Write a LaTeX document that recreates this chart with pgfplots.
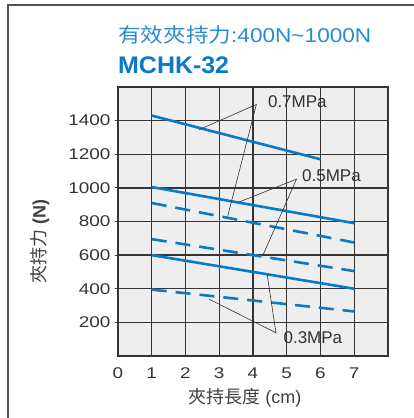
\documentclass[border=0pt]{standalone}
\usepackage{pgfplots}
\pgfplotsset{compat=1.18}
\usepackage{fontspec}
\setmainfont{Liberation Sans}
\newfontfamily\wide{Liberation Sans}[FakeStretch=1.22]
\newfontfamily\cjk{Noto Sans CJK TC}
\definecolor{lineblue}{RGB}{10,122,200}
\definecolor{titleblue}{RGB}{40,140,210}
\definecolor{griddark}{RGB}{55,52,50}
\definecolor{bggray}{RGB}{238,238,238}
\definecolor{annot}{RGB}{50,50,50}
\begin{document}
\begin{tikzpicture}
\useasboundingbox (0,0) rectangle (414bp,418bp);
% outer frame
\draw[griddark!85, line width=1.6bp] (8bp,0) -- (8bp,413bp) -- (414bp,413bp);
% titles
\node[anchor=base west, inner sep=0, text=titleblue] at (118bp,375bp)
  {\scalebox{1.13}[1]{\fontsize{20bp}{22bp}\selectfont{\cjk 有效夾持力}:400N\textasciitilde 1000N}};
\node[anchor=base west, inner sep=0, text=lineblue] at (118bp,344bp)
  {\scalebox{1.04}[1]{\fontsize{24bp}{26bp}\selectfont\bfseries MCHK-32}};
\begin{axis}[
  at={(118bp,62bp)}, anchor=south west,
  scale only axis, width=270bp, height=269bp,
  xmin=0, xmax=8, ymin=0, ymax=1600,
  xtick={0,...,7}, ytick={200,400,...,1400},
  grid=major,
  grid style={griddark, line width=1.3bp},
  axis line style={griddark, line width=1.6bp},
  axis background/.style={fill=bggray},
  xtick style={draw=none},
  ytick style={griddark, line width=1bp},
  tick align=outside, major tick length=3bp,
  ytick pos=left,
  /pgf/number format/assume math mode=true,
  /pgf/number format/1000 sep={},
  ticklabel style={font=\wide\fontsize{15.5bp}{17bp}\selectfont, text=black!80},
  xticklabel style={yshift=-5bp},
  yticklabel style={xshift=-1bp},
  xlabel={\fontsize{18bp}{20bp}\selectfont{\cjk 夾持長度} (cm)},
  ylabel={\fontsize{18bp}{20bp}\selectfont{\cjk 夾持力} \textbf{(N)}},
  xlabel style={at={(axis description cs:0.47,-0.156)}, anchor=center, text=black!75},
  ylabel style={at={(axis description cs:-0.289,0.424)}, anchor=center, rotate=0, text=black!75},
  clip=false,
]
% solid curves
\addplot[lineblue, line width=2.6bp] coordinates {(1,1430) (6,1170)};
\addplot[lineblue, line width=2.6bp] coordinates {(1,1005) (7,790)};
\addplot[lineblue, line width=2.6bp] coordinates {(1,600) (7,400)};
% dashed curves
\addplot[lineblue, line width=2.6bp, dash pattern=on 15bp off 9bp] coordinates {(1,910) (7,675)};
\addplot[lineblue, line width=2.6bp, dash pattern=on 15bp off 9bp] coordinates {(1,695) (7,505)};
\addplot[lineblue, line width=2.6bp, dash pattern=on 15bp off 9bp] coordinates {(1,395) (7,265)};
% annotations
\draw[annot, line width=0.6bp] (axis cs:2.41,1347) -- (axis cs:4.1,1496) -- (axis cs:3.25,831);
\draw[annot, line width=0.6bp] (axis cs:3.59,916) -- (axis cs:5.29,1052) -- (axis cs:4.28,593);
\draw[annot, line width=0.6bp] (axis cs:4.42,485) -- (axis cs:4.68,138) -- (axis cs:2.70,338);
\node[anchor=west, inner sep=0, text=annot, font=\fontsize{17bp}{19bp}\selectfont] at (axis cs:4.44,1510) {0.7MPa};
\node[anchor=west, inner sep=0, text=annot, font=\fontsize{17bp}{19bp}\selectfont] at (axis cs:5.45,1075) {0.5MPa};
\node[anchor=west, inner sep=0, text=annot, font=\fontsize{17bp}{19bp}\selectfont] at (axis cs:4.9,108) {0.3MPa};
\end{axis}
\end{tikzpicture}
\end{document}
